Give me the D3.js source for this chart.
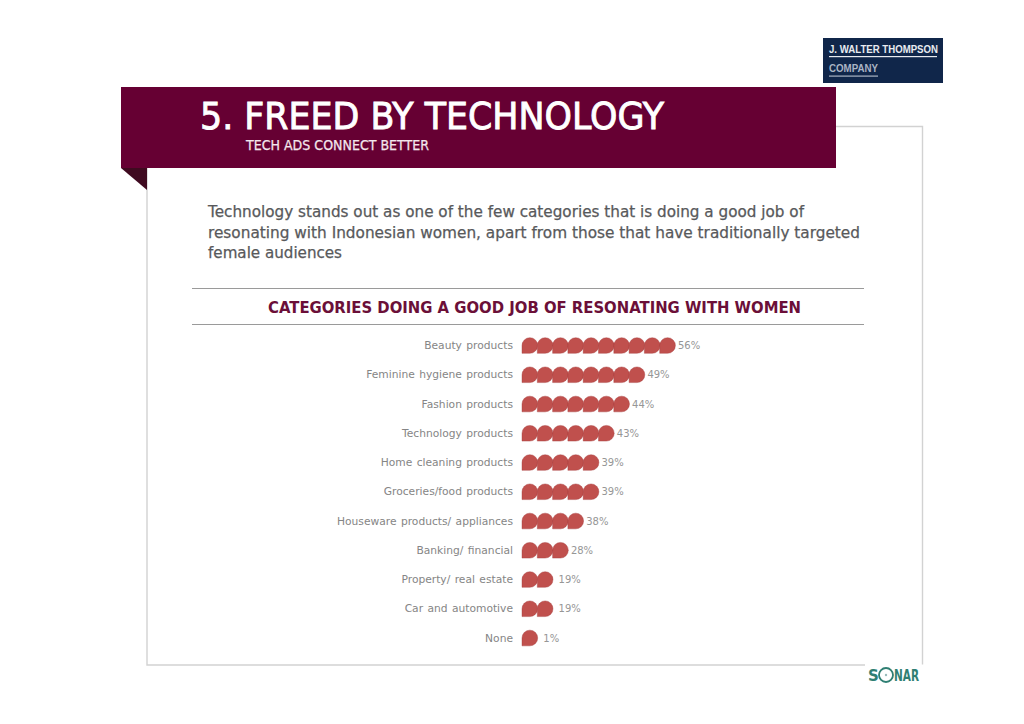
<!DOCTYPE html>
<html><head><meta charset="utf-8">
<script src="https://cdn.jsdelivr.net/npm/d3@7"></script>
<style>html,body{margin:0;padding:0;background:#fff}svg{display:block}text{font-family:"DejaVu Sans",sans-serif}</style>
</head><body><svg id="c" width="1024" height="724"></svg>
<script>
const categories=["Beauty products","Feminine hygiene products","Fashion products","Technology products","Home cleaning products","Groceries/food products","Houseware products/ appliances","Banking/ financial","Property/ real estate","Car and automotive","None"];
const percentLabels=["56%","49%","44%","43%","39%","39%","38%","28%","19%","19%","1%"];
const iconCounts=[10,8,7,6,5,5,4,3,2,2,1];
const bodyLines=["Technology stands out as one of the few categories that is doing a good job of","resonating with Indonesian women, apart from those that have traditionally targeted","female audiences"];

const svg=d3.select("#c");
const y=d3.scalePoint().domain(categories).range([345.5,638]);
const x=d3.scaleLinear().domain([0,10]).range([522,675]);
const iconW=x(1)-x(0)+0.4, r=iconW/2;

function T(t,px,py,size,fill,opt={}){
  const n=svg.append("text").attr("x",px).attr("y",py).attr("font-size",size).attr("fill",fill).text(t);
  if(opt.anchor)n.attr("text-anchor",opt.anchor);
  if(opt.weight)n.attr("font-weight",opt.weight);
  if(opt.len)n.attr("textLength",opt.len).attr("lengthAdjust","spacingAndGlyphs");
  if(opt.family)n.style("font-family",opt.family);
  if(opt.stroke)n.attr("stroke",fill).attr("stroke-width",opt.stroke);
  return n;
}
// frame
const frame="#d2d2d2";
svg.append("path").attr("d","M836,126.5H922.5V664.5M865,665H147V168").attr("fill","none").attr("stroke",frame).attr("stroke-width",1.4);
// banner
svg.append("rect").attr("x",121).attr("y",87).attr("width",715).attr("height",81).attr("fill","#660033");
svg.append("path").attr("d","M121,168L147,190V168Z").attr("fill","#3f0a20");
T("5. FREED BY TECHNOLOGY",200,129,37,"#fff",{len:464,stroke:0.9});
T("TECH ADS CONNECT BETTER",246,150,13.7,"#f3e6ec",{len:183,stroke:0.25});
// logo
svg.append("rect").attr("x",823).attr("y",38).attr("width",120).attr("height",45).attr("fill","#10264a");
const logoFont="'Liberation Sans',sans-serif";
T("J. WALTER THOMPSON",829,53,11,"#e8ebf0",{len:109,weight:"bold",family:logoFont});
svg.append("rect").attr("x",829).attr("y",56).attr("width",108).attr("height",1.2).attr("fill","#e8ebf0");
T("COMPANY",829,72,11,"#aab4c4",{len:49,weight:"bold",family:logoFont});
svg.append("rect").attr("x",829).attr("y",75.5).attr("width",49).attr("height",1.2).attr("fill","#aab4c4");
// body
const bodyW=[596,652,134];
bodyLines.forEach((l,i)=>T(l,208,217+i*20.5,15,"#58595b",{len:bodyW[i],stroke:0.25}));
// heading
[288.5,324.5].forEach(v=>svg.append("line").attr("x1",192).attr("x2",864).attr("y1",v).attr("y2",v).attr("stroke","#9a9a9a"));
T("CATEGORIES DOING A GOOD JOB OF RESONATING WITH WOMEN",268,313,16,"#6b0f38",{len:533,weight:"bold"});
// rows
const rows=svg.selectAll("g.row").data(categories).join("g").attr("class","row");
rows.append("text").attr("x",513).attr("y",d=>y(d)+3.5).attr("text-anchor","end").attr("font-size",10.7).attr("word-spacing",1).attr("fill","#858585").text(d=>d);
const drop=`M0,${r*2}V${r}A${r},${r} 0 1 1 ${r},${r*2}Z`;
rows.each(function(d,i){
  d3.select(this).selectAll("path").data(d3.range(iconCounts[i])).join("path")
    .attr("d",drop)
    .attr("transform",k=>`translate(${x(k)},${y(d)-r})`)
    .attr("fill","#c0504d").attr("stroke","#a5393b").attr("stroke-width",0.4);
  d3.select(this).append("text").attr("x",x(iconCounts[i])+(iconCounts[i]<=2?6:3)).attr("y",y(d)+3.5)
    .attr("font-size",10).attr("fill","#969696").text(percentLabels[i]);
});
// sonar
T("S",868,681,15,"#2f7f73",{weight:"bold"});
svg.append("circle").attr("cx",886).attr("cy",675).attr("r",7).attr("fill","none").attr("stroke","#2f7f73").attr("stroke-width",1.8);
svg.append("circle").attr("cx",886).attr("cy",675).attr("r",1.2).attr("fill","#9bb");
T("NAR",894,681,15,"#2f7f73",{weight:"bold",len:25});
</script></body></html>
